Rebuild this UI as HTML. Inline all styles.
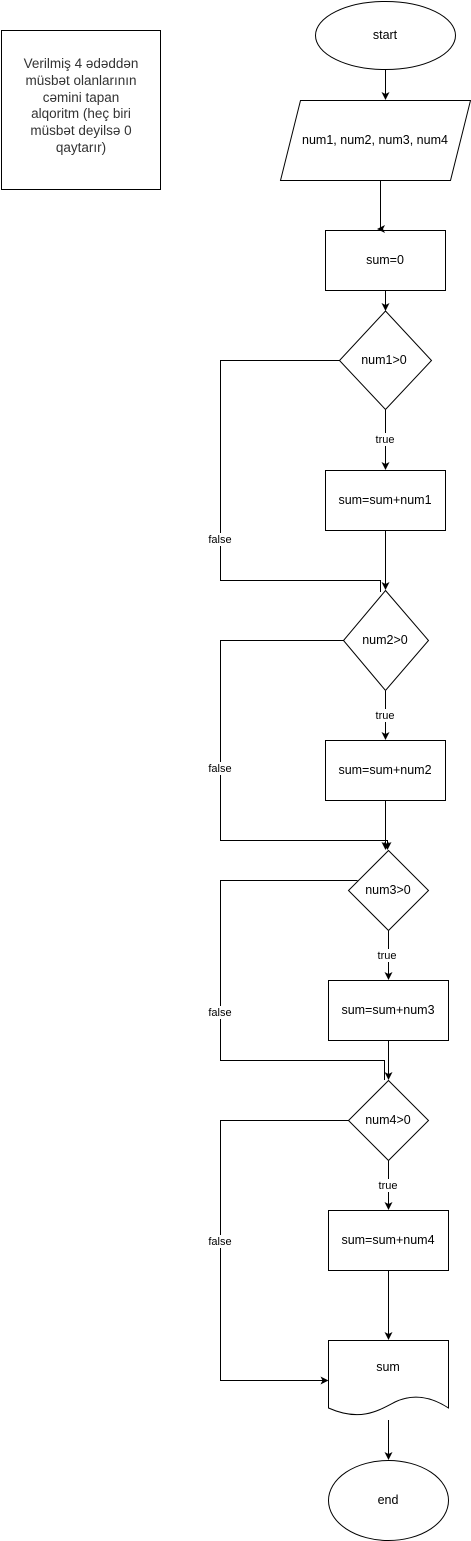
<!DOCTYPE html>
<html><head><meta charset="utf-8"><style>
html,body{margin:0;padding:0;background:#fff;}
svg{display:block;}
text{font-family:"Liberation Sans",Arial,sans-serif;fill:#000;}
.m{font-size:12.5px;}
.l{font-size:11px;}
.d{font-size:13.5px;fill:#333;}
</style></head><body>
<svg width="471" height="1541" viewBox="0 0 471 1541" xmlns="http://www.w3.org/2000/svg">
<defs>
<marker id="a" markerWidth="8" markerHeight="8" refX="7" refY="4" orient="auto" markerUnits="userSpaceOnUse">
<path d="M0,0 L8,4 L0,8 L2,4 z" fill="#000"/>
</marker>
</defs>
<g fill="none" stroke="#000" stroke-width="1">
<rect x="1.5" y="30.5" width="159" height="159"/>
<ellipse cx="385.5" cy="35.5" rx="70" ry="34"/>
<path d="M300.5,100.5 L470.5,100.5 L450.5,180.5 L280.5,180.5 Z"/>
<rect x="325.5" y="230.5" width="120" height="60"/>
<path d="M385.5,311 L431.5,360.5 L385.5,409.5 L339.5,360.5 Z"/>
<rect x="325.5" y="470.5" width="120" height="60"/>
<path d="M385.5,590.5 L428.5,640.5 L385.5,690.5 L343.5,640.5 Z"/>
<rect x="325.5" y="740.5" width="120" height="60"/>
<path d="M388.5,850.5 L428.5,890.5 L388.5,930.5 L348.5,890.5 Z"/>
<rect x="328.5" y="980.5" width="120" height="60"/>
<path d="M388.5,1080.5 L428.5,1120.5 L388.5,1160.5 L348.5,1120.5 Z"/>
<rect x="328.5" y="1210.5" width="120" height="60"/>
<path d="M328.5,1340.5 L448.5,1340.5 L448.5,1408 C430,1396 412,1394 395,1402 C378,1411 360,1422 328.5,1408 Z"/>
<ellipse cx="388.5" cy="1500.5" rx="60" ry="40"/>
</g>
<g fill="none" stroke="#000" stroke-width="1">
<path d="M385.5,70 L385.5,99" marker-end="url(#a)"/>
<path d="M380.5,181 L380.5,229 L378,229" marker-end="url(#a)"/>
<path d="M385.5,291 L385.5,310" marker-end="url(#a)"/>
<path d="M385.5,410 L385.5,469" marker-end="url(#a)"/>
<path d="M385.5,531 L385.5,589" marker-end="url(#a)"/>
<path d="M339.5,360.5 L220.5,360.5 L220.5,580.5 L380.5,580.5 L380.5,592"/>
<path d="M385.5,691 L385.5,739" marker-end="url(#a)"/>
<path d="M385.5,801 L385.5,849" marker-end="url(#a)"/>
<path d="M343.5,640.5 L220.5,640.5 L220.5,840.5 L387.5,840.5 L387.5,849" marker-end="url(#a)"/>
<path d="M388.5,931 L388.5,979" marker-end="url(#a)"/>
<path d="M388.5,1041 L388.5,1079" marker-end="url(#a)"/>
<path d="M357.5,880.5 L220.5,880.5 L220.5,1060.5 L384.5,1060.5 L384.5,1080"/>
<path d="M388.5,1161 L388.5,1209" marker-end="url(#a)"/>
<path d="M388.5,1271 L388.5,1339" marker-end="url(#a)"/>
<path d="M348.5,1120.5 L220.5,1120.5 L220.5,1380.5 L327.5,1380.5" marker-end="url(#a)"/>
<path d="M388.5,1420 L388.5,1459" marker-end="url(#a)"/>
</g>
<g fill="#fff">
<rect x="373" y="433" width="25" height="13"/>
<rect x="373" y="709" width="25" height="13"/>
<rect x="375" y="949" width="25" height="13"/>
<rect x="376" y="1179" width="25" height="13"/>
<rect x="207" y="533" width="27" height="13"/>
<rect x="207" y="762" width="27" height="13"/>
<rect x="207" y="1006" width="27" height="13"/>
<rect x="207" y="1235" width="27" height="13"/>
</g>
<g text-anchor="middle">
<text class="m" x="385" y="39">start</text>
<text class="m" x="375" y="144">num1, num2, num3, num4</text>
<text class="m" x="385" y="264">sum=0</text>
<text class="m" x="384" y="364">num1&gt;0</text>
<text class="m" x="385" y="504">sum=sum+num1</text>
<text class="m" x="385" y="644">num2&gt;0</text>
<text class="m" x="385" y="774">sum=sum+num2</text>
<text class="m" x="388" y="894">num3&gt;0</text>
<text class="m" x="388" y="1014">sum=sum+num3</text>
<text class="m" x="388" y="1124">num4&gt;0</text>
<text class="m" x="388" y="1244">sum=sum+num4</text>
<text class="m" x="388" y="1371">sum</text>
<text class="m" x="388" y="1504">end</text>
<text class="l" x="385" y="443">true</text>
<text class="l" x="385" y="719">true</text>
<text class="l" x="387" y="959">true</text>
<text class="l" x="388" y="1189">true</text>
<text class="l" x="220" y="543">false</text>
<text class="l" x="220" y="772">false</text>
<text class="l" x="220" y="1016">false</text>
<text class="l" x="220" y="1245">false</text>
<text class="d" x="81" y="68">Verilmiş 4 ədəddən</text>
<text class="d" x="81" y="85">müsbət olanlarının</text>
<text class="d" x="81" y="102">cəmini tapan</text>
<text class="d" x="81" y="118">alqoritm (heç biri</text>
<text class="d" x="81" y="135">müsbət deyilsə 0</text>
<text class="d" x="81" y="152">qaytarır)</text>
</g>
</svg>
</body></html>
